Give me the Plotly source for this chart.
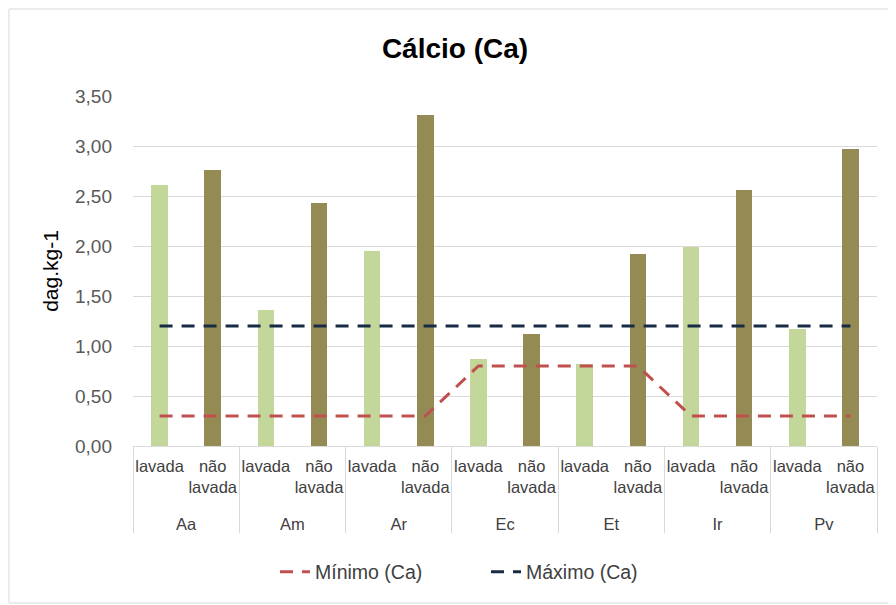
import plotly.graph_objects as go

groups = ["Aa", "Am", "Ar", "Ec", "Et", "Ir", "Pv"]
subcats = ["lavada", "não<br>lavada"]
lavada = [2.61, 1.36, 1.95, 0.87, 0.82, 1.99, 1.17]
nao_lavada = [2.76, 2.43, 3.31, 1.12, 1.92, 2.56, 2.97]
minimo = [0.30, 0.30, 0.30, 0.30, 0.30, 0.30, 0.80, 0.80, 0.80, 0.80, 0.30, 0.30, 0.30, 0.30]
maximo = [1.20] * 14
y_ticks = [0, 0.5, 1.0, 1.5, 2.0, 2.5, 3.0, 3.5]

x_lvl1 = ["<br>" + g for g in groups for s in subcats]
x_lvl2 = [s for g in groups for s in subcats]
bar_vals = []
for a, b in zip(lavada, nao_lavada):
    bar_vals += [a, b]
bar_colors = ["#C4D79B" if s == "lavada" else "#948A54" for s in x_lvl2]

FONT = "Liberation Sans, Arial"

fig = go.Figure()
fig.add_trace(go.Bar(x=[x_lvl1, x_lvl2], y=bar_vals, marker=dict(color=bar_colors, line=dict(width=0)),
                     width=0.31, showlegend=False, hoverinfo="y"))
fig.add_trace(go.Scatter(x=[x_lvl1, x_lvl2], y=minimo, mode="lines", name="Mínimo (Ca)",
                         line=dict(color="#C0504D", width=3, dash="13px,9px")))
fig.add_trace(go.Scatter(x=[x_lvl1, x_lvl2], y=maximo, mode="lines", name="Máximo (Ca)",
                         line=dict(color="#172B45", width=3, dash="13px,9px")))

# page body has an 8px margin, so the figure is drawn at (8, 8)
OFF = 8
W, H = 896 - OFF, 605 - OFF
ml, mr, mt, mb = 133 - OFF, 19, 96 - OFF, 159
pw, ph = W - ml - mr, H - mt - mb

fig.update_layout(
    width=W, height=H,
    margin=dict(l=ml, r=mr, t=mt, b=mb, autoexpand=False),
    paper_bgcolor="white", plot_bgcolor="white",
    separators=",.",
    font=dict(family=FONT, color="#404040", size=15),
    title=dict(text="<b>Cálcio (Ca)</b>", x=(455 - OFF) / W, xref="container", xanchor="center",
               y=1 - (48 - OFF) / H, yref="container", yanchor="middle",
               font=dict(family=FONT, size=28, color="#000000")),
    legend=dict(orientation="h", x=(486 - OFF) / W, xref="container", xanchor="center",
                y=1 - (572 - OFF) / H, yref="container", yanchor="middle",
                font=dict(family=FONT, size=19.5, color="#404040"),
                entrywidth=166, entrywidthmode="pixels"),
    bargap=0,
    xaxis=dict(type="multicategory", showgrid=False, showline=True, linecolor="#D9D9D9", linewidth=1,
               ticks="", automargin=False, tickangle=0, ticklabelstandoff=5,
               showdividers=True, dividercolor="#D9D9D9", dividerwidth=1,
               tickfont=dict(family=FONT, size=16.5, color="#404040")),
    yaxis=dict(range=[0, 3.5], tickvals=y_ticks, tickformat=".2f", showgrid=True, gridcolor="#D9D9D9",
               gridwidth=1, zeroline=False, showline=False, ticks="", automargin=False,
               ticklabelstandoff=20,
               tickfont=dict(family=FONT, size=19, color="#595959"),
               title=dict(text="dag.kg-1", font=dict(family=FONT, size=21, color="#000000"), standoff=10)),
    showlegend=True,
)

# chart border
fig.add_shape(type="rect", xref="paper", yref="paper",
              x0=-(ml - 1) / pw, x1=1 + (mr - 2) / pw,
              y0=-(mb - 2) / ph, y1=1 + (mt - 1) / ph,
              line=dict(color="#D9D9D9", width=1), fillcolor="rgba(0,0,0,0)", layer="below")

fig.write_html("out.html")
